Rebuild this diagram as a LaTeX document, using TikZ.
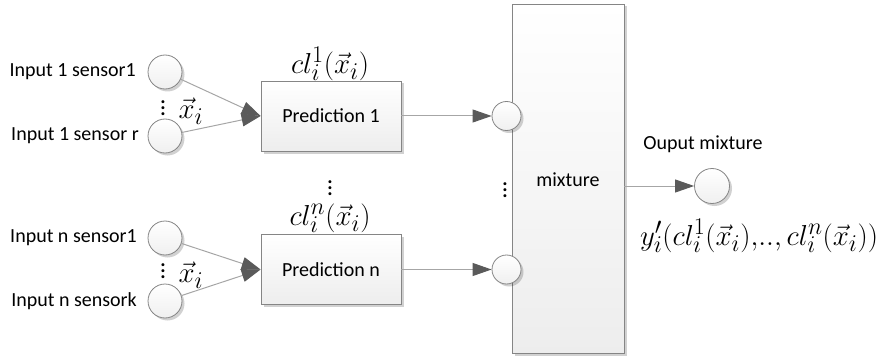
\documentclass[tikz,border=0pt]{standalone}
\usepackage{graphicx}
\usepackage{fontspec}
\setsansfont{Carlito}
\usetikzlibrary{arrows.meta,shadows}
\definecolor{edge}{HTML}{858585}
\definecolor{lineg}{HTML}{A6A6A6}
\definecolor{tipg}{HTML}{5A5A5A}
\newcommand\mydots{\vbox{\baselineskip=6pt\lineskiplimit=-20pt\hbox{\bfseries .}\hbox{\bfseries .}\hbox{\bfseries .}}}
\newcommand\mybigmath[1]{\scalebox{1.16}{$#1$}}
\begin{document}
\begin{tikzpicture}[x=1pt,y=-1pt,
  lbl/.style={font=\sffamily\fontsize{20}{24}\selectfont, inner sep=0pt},
  mth/.style={font=\fontsize{24.88}{30}\selectfont, inner sep=0pt},
  dotsl/.style={font=\sffamily\fontsize{20}{22}\selectfont, inner sep=0pt},
  shade/.style={drop shadow={shadow xshift=2.5pt,shadow yshift=-2.5pt,opacity=0.18,fill=black}},
  boxn/.style={draw=edge, line width=0.8pt, top color=white, bottom color=black!7, shade, rectangle, inner sep=0pt},
  cnode/.style={circle, draw=edge, line width=0.8pt, top color=white, bottom color=black!6, shade, inner sep=0pt},
  conn/.style={draw=lineg, line width=1pt, -{Triangle[length=19pt,width=13pt,fill=tipg,color=tipg]}}
]
\useasboundingbox (0,0) rectangle (879,361);

% input circles
\node[cnode, minimum size=34pt] (i1) at (165,72) {};
\node[cnode, minimum size=34pt] (i2) at (165,136) {};
\node[cnode, minimum size=34pt] (i3) at (165,238) {};
\node[cnode, minimum size=34pt] (i4) at (165,301) {};

% prediction boxes
\node[boxn, minimum width=140pt, minimum height=70pt] (p1) at (331,116) {};
\node[lbl] (p1t) at (331,116) {Prediction 1};
\node[boxn, minimum width=140pt, minimum height=70pt] (pn) at (331,269.5) {};
\node[lbl] (pnt) at (331,269.5) {Prediction n};

% mixture box
\node[boxn, minimum width=112pt, minimum height=349pt] (mix) at (568,178.5) {};
\node[lbl] (mixt) at (568,180) {mixture};

% mixture circles
\node[cnode, minimum size=29pt] (m1) at (506.5,116) {};
\node[cnode, minimum size=29pt] (m2) at (506.5,269.5) {};

% output circle
\node[cnode, minimum size=35pt] (out) at (712,186) {};
\coordinate (mixout) at (mix.east |- out);

% connectors
\draw[conn] (i1) -- (p1.west);
\draw[conn] (i2) -- (p1.west);
\draw[conn] (i3) -- (pn.west);
\draw[conn] (i4) -- (pn.west);
\draw[conn] (p1.east) -- (m1.west);
\draw[conn] (pn.east) -- (m2.west);
\draw[conn] (mixout) -- (out.west);

% labels
\node[lbl, anchor=east] (l1) at (136,72) {Input 1 sensor1};
\node[lbl, anchor=east] (l2) at (139,136) {Input 1 sensor r};
\node[lbl, anchor=east] (l3) at (137,238) {Input n sensor1};
\node[lbl, anchor=east] (l4) at (137,301) {Input n sensork};

\node[dotsl] (d1) at (163,108) {\mydots};
\node[dotsl] (d2) at (163,271) {\mydots};
\node[mth] (x1) at (191,111) {\mybigmath{\vec{x}_i}};
\node[mth] (x2) at (191,275) {\mybigmath{\vec{x}_i}};

\node[mth] (c1) at (330,64) {\mybigmath{cl_i^1(\vec{x}_i)}};
\node[dotsl] (d3) at (330,188) {\mydots};
\node[mth] (cn) at (330,218) {\mybigmath{cl_i^n(\vec{x}_i)}};
\node[dotsl] (d4) at (505,190) {\mydots};

\node[lbl] (ot) at (703,144) {Ouput mixture};
\node[mth] (yt) at (759,236) {\mybigmath{y^{\prime}_i(cl_i^1(\vec{x}_i){,}..{,}\,cl_i^n(\vec{x}_i))}};
\end{tikzpicture}
\end{document}
